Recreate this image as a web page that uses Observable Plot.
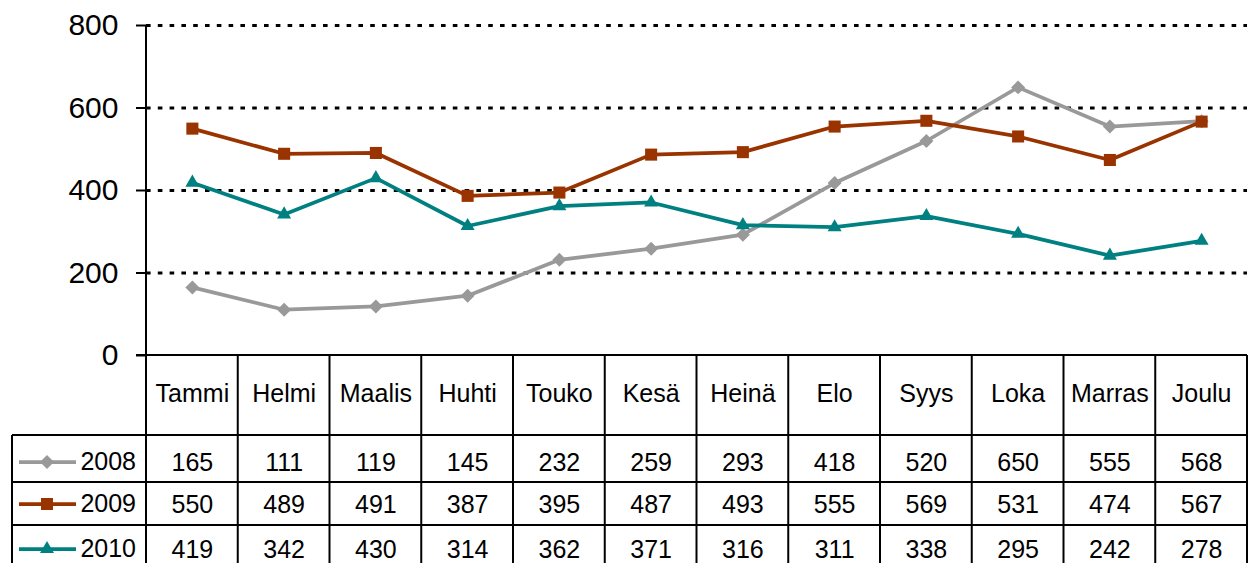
<!DOCTYPE html>
<html>
<head>
<meta charset="utf-8">
<script src="https://cdn.jsdelivr.net/npm/d3@7"></script>
<script src="https://cdn.jsdelivr.net/npm/@observablehq/plot@0.6"></script>
<style>
  html, body { margin: 0; padding: 0; background: #fff; }
  #chart { width: 1250px; height: 563px; overflow: hidden; }
</style>
</head>
<body>
<div id="chart"></div>
<script>
const months = ["Tammi","Helmi","Maalis","Huhti","Touko","Kesä","Heinä","Elo","Syys","Loka","Marras","Joulu"];
const years = ["2008","2009","2010"];
const v2008 = [165,111,119,145,232,259,293,418,520,650,555,568];
const v2009 = [550,489,491,387,395,487,493,555,569,531,474,567];
const v2010 = [419,342,430,314,362,371,316,311,338,295,242,278];
const yTicks = [0,200,400,600,800];
const colors = ["#999999","#993300","#008080"];
const symbols = ["diamond2","square","triangle"];

const seriesValues = [v2008, v2009, v2010];
const series = years.map((yr, i) => months.map((m, j) => ({month: m, year: yr, value: seriesValues[i][j]})));

const FONT = "'Liberation Sans', Arial, sans-serif";
const rowDy = [107, 149, 194];   // table rows offset below the zero line
const symR = [6.3, 6.8, 5.2];

const marks = [
  Plot.gridY(yTicks.filter(d => d > 0), {stroke: "#000", strokeOpacity: 1, strokeWidth: 3, strokeDasharray: "4.6,7.2"}),
  Plot.axisY({ticks: yTicks, label: null, tickSize: 10, tickPadding: 18, fontSize: 30, tickFormat: d => String(d), strokeWidth: 2, stroke: "#000"}),
  Plot.text(months, {x: d => d, y: () => 0, dy: 38, fontSize: 25, fill: "#000", text: d => d})
];
series.forEach((s, i) => {
  marks.push(Plot.line(s, {x: "month", y: "value", stroke: colors[i], strokeWidth: 3.75}));
  marks.push(Plot.dot(s, {x: "month", y: "value", fill: colors[i], stroke: "none", symbol: () => symbols[i], r: symR[i]}));
  marks.push(Plot.text(s, {x: "month", y: () => 0, dy: rowDy[i], text: d => String(d.value), fontSize: 25, fill: "#000"}));
});

const chart = Plot.plot({
  width: 1250,
  height: 563,
  marginTop: 25,
  marginBottom: 208,
  marginLeft: 146,
  marginRight: 3,
  x: {type: "band", domain: months, padding: 0, round: false, axis: null},
  y: {domain: [0, 800], axis: null, label: null},
  symbol: {type: "ordinal", domain: symbols, range: symbols},
  style: {fontFamily: FONT, background: "#fff", color: "#000"},
  marks
});
document.getElementById("chart").appendChild(chart);

// table borders and legend
const svg = d3.select(chart.tagName.toLowerCase() === "svg" ? chart : chart.querySelector("svg"));
const xs = chart.scale("x"), ys = chart.scale("y");
const [xL, xR] = xs.range;
const step = (xR - xL) / months.length;
const y0 = ys.apply(0);
const rowLines = [y0 + 80, y0 + 127, y0 + 170];
const g = svg.append("g").attr("stroke", "#000").attr("stroke-width", 2);
// vertical axis line
g.append("line").attr("x1", xL).attr("x2", xL).attr("y1", ys.apply(800)).attr("y2", 563);
// column separators
for (let k = 1; k <= months.length; k++) {
  const x = xL + k * step;
  g.append("line").attr("x1", x).attr("x2", x).attr("y1", y0).attr("y2", 563);
}
// zero / header top
g.append("line").attr("x1", xL - 10).attr("x2", xR).attr("y1", y0).attr("y2", y0);
// row lines
rowLines.forEach(y => g.append("line").attr("x1", 12).attr("x2", xR).attr("y1", y).attr("y2", y));
// legend left border
g.append("line").attr("x1", 12).attr("x2", 12).attr("y1", rowLines[0]).attr("y2", 563);

// legend keys
const d3sym = {diamond2: d3.symbolDiamond2, square: d3.symbolSquare, triangle: d3.symbolTriangle};
years.forEach((yr, i) => {
  const y = y0 + rowDy[i];
  const lg = svg.append("g");
  lg.append("line").attr("x1", 19).attr("x2", 76).attr("y1", y).attr("y2", y)
    .attr("stroke", colors[i]).attr("stroke-width", 3.75);
  lg.append("path").attr("d", d3.symbol(d3sym[symbols[i]], Math.PI * symR[i] * symR[i])())
    .attr("transform", `translate(47,${y})`).attr("fill", colors[i]);
  lg.append("text").attr("x", 136).attr("y", y).attr("dy", "0.32em").attr("text-anchor", "end")
    .attr("font-size", 25).attr("font-family", FONT).attr("fill", "#000").text(yr);
});
</script>
</body>
</html>
